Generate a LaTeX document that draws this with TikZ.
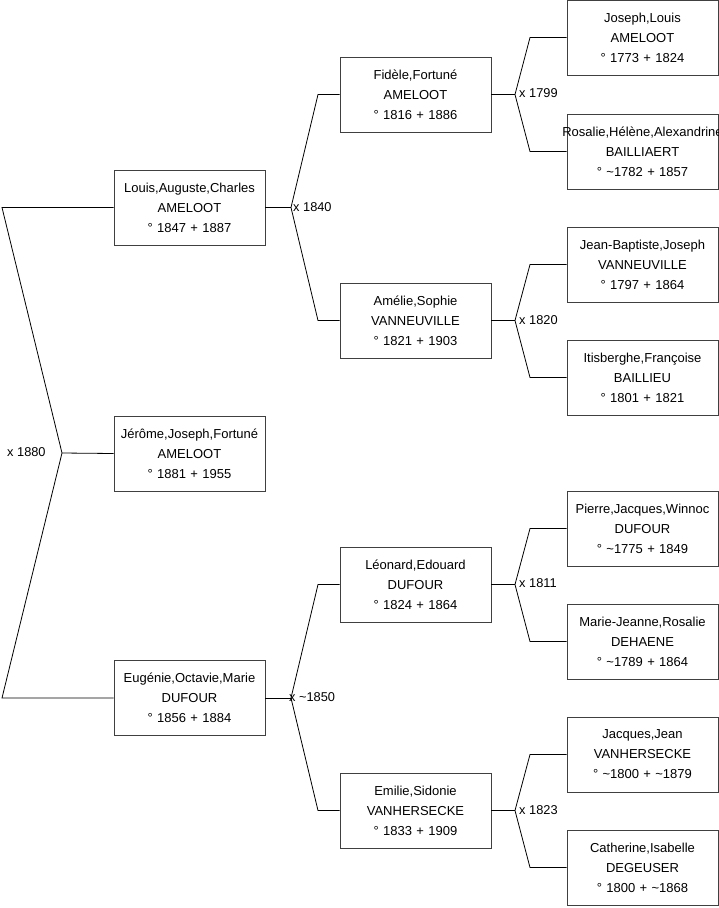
\documentclass[tikz,border=0pt]{standalone}
\usepackage{fontspec}
\setmainfont{Liberation Sans}
\begin{document}
\begin{tikzpicture}[x=1pt,y=-1pt,
  person/.style={draw=black!75, line width=0.9pt, minimum width=151pt, minimum height=75pt,
    text width=141pt, align=center, inner sep=0pt,
    font=\fontsize{13}{20}\selectfont},
  link/.style={draw=black, line width=0.8pt},
  mlabel/.style={anchor=west, inner sep=0pt, font=\fontsize{12.8}{15}\selectfont}]
\useasboundingbox (0,0) rectangle (719,908);
% generation 1
\node[person] (louis) at (189.5,207.5) {Louis,Auguste,Charles\\AMELOOT\\° 1847 + 1887};
\node[person] (jerome) at (189.5,453.5) {Jérôme,Joseph,Fortuné\\AMELOOT\\° 1881 + 1955};
\node[person] (eugenie) at (189.5,698) {Eugénie,Octavie,Marie\\DUFOUR\\° 1856 + 1884};
% generation 2
\node[person] (fidele) at (415.5,94.5) {Fidèle,Fortuné\\AMELOOT\\° 1816 + 1886};
\node[person] (amelie) at (415.5,320.5) {Amélie,Sophie\\VANNEUVILLE\\° 1821 + 1903};
\node[person] (leonard) at (415.5,584.5) {Léonard,Edouard\\DUFOUR\\° 1824 + 1864};
\node[person] (emilie) at (415.5,810.5) {Emilie,Sidonie\\VANHERSECKE\\° 1833 + 1909};
% generation 3
\node[person] (joseph) at (642.5,37.5) {Joseph,Louis\\AMELOOT\\° 1773 + 1824};
\node[person] (rosalie) at (642.5,151.5) {\makebox[141pt][c]{Rosalie,Hélène,Alexandrine}\\BAILLIAERT\\° \textasciitilde1782 + 1857};
\node[person] (jb) at (642.5,264.5) {Jean-Baptiste,Joseph\\VANNEUVILLE\\° 1797 + 1864};
\node[person] (itis) at (642.5,377.5) {Itisberghe,Françoise\\BAILLIEU\\° 1801 + 1821};
\node[person] (pierre) at (642.5,528.5) {Pierre,Jacques,Winnoc\\DUFOUR\\° \textasciitilde1775 + 1849};
\node[person] (marie) at (642.5,641.5) {Marie-Jeanne,Rosalie\\DEHAENE\\° \textasciitilde1789 + 1864};
\node[person] (jacques) at (642.5,754.5) {Jacques,Jean\\VANHERSECKE\\° \textasciitilde1800 + \textasciitilde1879};
\node[person] (catherine) at (642.5,867.5) {Catherine,Isabelle\\DEGEUSER\\° 1800 + \textasciitilde1868};
% coordinates
\coordinate (a0) at (62,453);
\coordinate (a0t) at (2,207.5);
\coordinate (a0b) at (2,698);
\coordinate (a1) at (291,207.5);
\coordinate (a1t) at (318,94.5);
\coordinate (a1b) at (318,320.5);
\coordinate (a2) at (291,698);
\coordinate (a2t) at (318,584.5);
\coordinate (a2b) at (318,810.5);
\coordinate (b1) at (515,94.5);
\coordinate (b1t) at (530,37.5);
\coordinate (b1b) at (530,151.5);
\coordinate (b2) at (515,320.5);
\coordinate (b2t) at (530,264.5);
\coordinate (b2b) at (530,377.5);
\coordinate (b3) at (515,584.5);
\coordinate (b3t) at (530,528.5);
\coordinate (b3b) at (530,641.5);
\coordinate (b4) at (515,810.5);
\coordinate (b4t) at (530,754.5);
\coordinate (b4b) at (530,867.5);
% links
\draw[link] (louis.west) -- (a0t) -- (a0) -- (a0b) -- (eugenie.west);
\draw[link] (a0) -- (jerome.west);
\draw[link] (louis.east) -- (a1);
\draw[link] (fidele.west) -- (a1t) -- (a1) -- (a1b) -- (amelie.west);
\draw[link] (eugenie.east) -- (a2);
\draw[link] (leonard.west) -- (a2t) -- (a2) -- (a2b) -- (emilie.west);
\draw[link] (fidele.east) -- (b1);
\draw[link] (joseph.west) -- (b1t) -- (b1) -- (b1b) -- (rosalie.west);
\draw[link] (amelie.east) -- (b2);
\draw[link] (jb.west) -- (b2t) -- (b2) -- (b2b) -- (itis.west);
\draw[link] (leonard.east) -- (b3);
\draw[link] (pierre.west) -- (b3t) -- (b3) -- (b3b) -- (marie.west);
\draw[link] (emilie.east) -- (b4);
\draw[link] (jacques.west) -- (b4t) -- (b4) -- (b4b) -- (catherine.west);
% marriage labels
\node[mlabel] (m0) at (7,452) {x 1880};
\node[mlabel] (m1) at (293,207.5) {x 1840};
\node[mlabel] (m2) at (289,697) {x \textasciitilde1850};
\node[mlabel] (m3) at (519,93) {x 1799};
\node[mlabel] (m4) at (519,320) {x 1820};
\node[mlabel] (m5) at (519,583) {x 1811};
\node[mlabel] (m6) at (519,810) {x 1823};
\end{tikzpicture}
\end{document}
